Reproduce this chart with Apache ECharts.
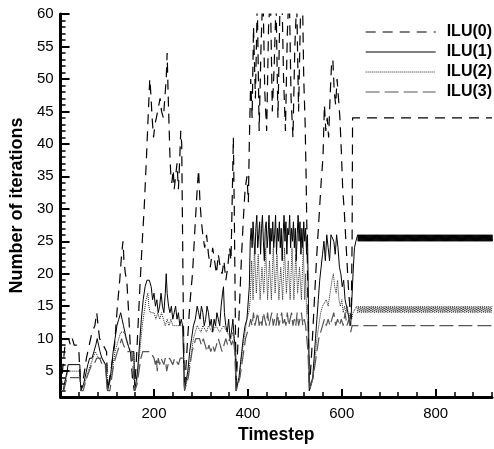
<!DOCTYPE html>
<html>
<head>
<meta charset="utf-8">
<title>ILU iterations</title>
<style>
body { margin: 0; background: #fff; }
#main { width: 494px; height: 449px; }
</style>
</head>
<body>
<div id="main"></div>
<script src="https://cdn.jsdelivr.net/npm/echarts@6/dist/echarts.min.js"></script>
<script>
// series names
var names = ['ILU(0)', 'ILU(1)', 'ILU(2)', 'ILU(3)'];

// [timestep, iterations]
var ilu0Pts = [
  [2,2],[5,5],[9,8],[12,10],[18,10],[22,9],[26,10],[30,9],[35,9],[40,8],[43,8],
  [44,2],[50,4],[56,7],[62,9],[68,11],[74,12],[78,14],[81,12],[84,10],[88,10],[92,9],[96,9],[99,8],
  [101,2],[108,5],[116,9],[122,15],[127,19],[131,23],[134,25],[136,22],[139,20],[142,19],[146,14],[150,8],[154,4],[158,2],
  [162,6],[166,12],[170,18],[175,25],[179,30],[184,38],[188,45],[191,50],[193,48],[196,44],[199,41],[202,43],[205,44],
  [209,44],[213,47],[216,45],[220,44],[223,47],[226,50],[228,54],[230,48],[232,43],[234,38],[236,35],[238,34],[241,36],
  [243,33],[246,35],[249,37],[252,33],[255,38],[257,42],[259,40],[261,25],[263,10],[265,2],
  [270,8],[276,15],[282,20],[288,28],[292,33],[295,36],[298,31],[301,28],[304,26],[308,24],[312,26],[316,23],[320,21],
  [325,24],[329,22],[333,20],[337,23],[341,21],[345,20],[349,22],[353,19],[357,21],[361,24],[364,22],[367,33],[369,41],
  [371,30],[373,15],[375,2],
  [378,8],[382,15],[386,22],[390,28],[394,33],[398,35],[401,31],[403,40],[406,50],[409,44],[412,58],[416,47],[420,62],
  [424,42],[428,55],[432,64],[436,48],[440,42],[444,58],[448,63],[452,45],[456,52],[460,62],[464,44],[468,60],[472,65],
  [476,50],[480,42],[484,57],[488,64],[492,47],[496,41],[500,55],[504,62],[508,45],[512,60],[516,64],[519,50],[522,43],
  [524,35],[526,25],[529,10],[531,2],
  [536,8],[541,15],[546,22],[551,28],[556,34],[560,38],[563,46],[566,42],[569,44],[572,41],[575,47],[578,52],[581,53],
  [584,48],[587,46],[590,50],[593,47],[596,44],[599,39],[602,33],[605,30],[608,26],[611,22],[614,18],[617,15],[620,13],
  [622,25],[623,44],[920,44]
];

var ilu1Pts = [
  [2,2],[7,2],[9,3],[12,4],[15,5],[17,6],[42,6],
  [44,2],[47,2],[50,3],[53,4],[56,5],[59,6],[63,7],[68,7],[72,8],[76,9],[79,10],[82,9],[85,8],[89,7],[93,7],[97,6],[100,6],
  [101,2],[104,2],[107,4],[110,6],[113,8],[117,10],[121,12],[125,13],[129,14],[132,13],[135,12],[138,11],[141,10],[145,9],
  [149,8],[153,8],[157,8],
  [159,2],[162,2],[165,5],[169,9],[173,13],[177,16],[181,18],[185,19],[190,19],[194,18],[197,16],[200,17],[203,15],[206,16],
  [209,14],[212,15],[215,17],[218,15],[221,14],[224,17],[226,20],[228,17],[231,15],[234,14],[237,15],[240,13],[243,14],
  [246,15],[249,13],[252,14],[255,12],[258,13],[261,12],[263,12],
  [265,2],[268,2],[272,5],[276,8],[280,10],[284,12],[288,13],[292,15],[295,14],[298,13],[301,15],[304,14],[307,12],[310,13],
  [313,15],[316,14],[319,12],[322,13],[325,11],[328,13],[331,12],[334,14],[337,13],[340,12],[343,15],[346,17],[348,18],
  [350,14],[353,12],[356,11],[359,13],[362,10],[365,11],[368,13],[371,10],[374,8],
  [375,2],[378,2],[381,4],[384,6],[387,8],[390,10],[394,12],[398,13],[401,13],[403,18],[405,25],[407,27],[409,24],[411,28],
  [413,25],[415,23],[417,27],[419,29],[421,24],[423,26],[425,28],[427,23],[429,27],[431,29],[433,25],[435,22],[437,27],
  [439,28],[441,24],[443,26],[445,29],[447,23],[449,27],[451,25],[453,28],[455,24],[457,26],[459,29],[461,23],[463,27],
  [465,25],[467,28],[469,24],[471,27],[473,22],[475,26],[477,29],[479,25],[481,28],[483,23],[485,27],[487,26],[489,29],
  [491,24],[493,27],[495,25],[497,28],[499,24],[501,27],[503,22],[505,26],[507,29],[509,25],[511,28],[513,23],[515,27],
  [517,24],[519,28],[521,25],[523,27],[525,23],[527,26],[529,15],
  [531,2],[535,2],[538,4],[541,7],[544,10],[547,13],[550,16],[553,19],[556,21],[559,23],[562,25],[565,22],[568,26],[571,24],
  [574,22],[577,26],[580,26],[583,25],[586,23],[589,26],[592,24],[595,21],[598,20],[601,18],[604,19],[607,16],[610,15],
  [613,14],[616,13],[619,12],[621,12],[624,20],[627,24],[630,25],[633,25]
];
// the 25/26 band, one value per timestep from 634
var ilu1Band = [
  26,25,26,25,26,25,26,25,26,25,26,25,26,25,26,25,26,25,26,25,26,25,26,25,
  26,25,26,25,26,25,26,25,26,25,26,25,26,25,26,25,26,25,26,25,26,25,26,25,
  26,25,26,25,26,25,26,25,26,25,26,25,26,25,26,25,26,25,26,25,26,25,26,25,
  26,25,26,25,26,25,26,25,26,25,26,25,26,25,26,25,26,25,26,25,26,25,26,25,
  26,25,26,25,26,25,26,25,26,25,26,25,26,25,26,25,26,25,26,25,26,25,26,25,
  26,25,26,25,26,25,26,25,26,25,26,25,26,25,26,25,26,25,26,25,26,25,26,25,
  26,25,26,25,26,25,26,25,26,25,26,25,26,25,26,25,26,25,26,25,26,25,26,25,
  26,25,26,25,26,25,26,25,26,25,26,25,26,25,26,25,26,25,26,25,26,25,26,25,
  26,25,26,25,26,25,26,25,26,25,26,25,26,25,26,25,26,25,26,25,26,25,26,25,
  26,25,26,25,26,25,26,25,26,25,26,25,26,25,26,25,26,25,26,25,26,25,26,25,
  26,25,26,25,26,25,26,25,26,25,26,25,26,25,26,25,26,25,26,25,26,25,26,25,
  26,25,26,25,26,25,26,25,26,25,26,25,26,25,26,25,26,25,26,25,26,25,26,25
];

var ilu2Pts = [
  [2,2],[7,2],[10,3],[13,4],[17,5],[42,5],
  [44,2],[48,2],[52,3],[56,4],[60,5],[65,6],[70,7],[75,8],[79,8],[82,7],[86,7],[90,7],[95,6],[100,6],
  [101,2],[105,2],[109,4],[113,6],[117,8],[121,9],[125,10],[129,11],[133,11],[137,11],[140,10],[144,9],[148,9],[152,8],[157,8],
  [159,2],[163,3],[167,6],[171,9],[175,12],[179,14],[183,16],[187,17],[189,15],[192,14],[196,14],[200,14],[204,13],[208,14],
  [212,13],[216,14],[220,13],[224,12],[228,13],[232,12],[236,13],[240,12],[244,12],[248,12],[252,12],[256,12],[260,12],[263,12],
  [265,2],[268,2],[272,4],[276,6],[280,8],[284,10],[288,11],[292,12],[296,12],[300,11],[304,12],[308,12],[312,11],[316,12],
  [320,12],[324,11],[328,11],[332,12],[336,12],[340,11],[344,11],[348,12],[352,12],[356,11],[360,11],[364,10],[368,11],[372,9],
  [375,2],[378,2],[382,4],[386,7],[390,9],[394,11],[398,13],[402,14],[405,16],[408,22],[411,16],[414,24],[418,17],[422,23],
  [426,16],[430,21],[434,17],[438,24],[442,16],[446,22],[450,16],[454,24],[458,17],[462,23],[466,16],[470,21],[474,16],
  [478,24],[482,17],[486,22],[490,16],[494,24],[498,16],[502,23],[506,17],[510,21],[514,16],[518,24],[521,16],[523,20],
  [525,14],[528,12],
  [531,2],[535,2],[539,4],[543,7],[547,10],[551,12],[555,14],[559,15],[563,15],[567,16],[571,15],[575,17],[579,19],[582,20],
  [585,18],[588,17],[591,19],[594,16],[597,15],[600,16],[603,14],[606,15],[609,14],[612,15],[615,13],[618,14],[621,13],
  [624,14],[628,14]
];
// the 14/15 band after timestep 632, every 2 timesteps
var ilu2Band = [
  15,14,15,14,15,14,15,14,15,14,15,14,15,14,15,14,15,14,15,14,15,14,15,14,
  15,14,15,14,15,14,15,14,15,14,15,14,15,14,15,14,15,14,15,14,15,14,15,14,
  15,14,15,14,15,14,15,14,15,14,15,14,15,14,15,14,15,14,15,14,15,14,15,14,
  15,14,15,14,15,14,15,14,15,14,15,14,15,14,15,14,15,14,15,14,15,14,15,14,
  15,14,15,14,15,14,15,14,15,14,15,14,15,14,15,14,15,14,15,14,15,14,15,14,
  15,14,15,14,15,14,15,14,15,14,15,14,15,14,15,14,15,14,15,14,15,14,15,14,15
];

var ilu3Pts = [
  [2,2],[8,2],[11,3],[15,4],[42,4],
  [44,2],[49,2],[53,3],[57,4],[62,5],[67,6],[72,6],[78,7],[84,7],[90,6],[96,6],[100,6],
  [101,2],[106,2],[110,4],[114,6],[118,7],[122,8],[127,9],[131,10],[135,9],[139,9],[143,8],[148,8],[153,8],[157,8],
  [159,2],[164,3],[168,5],[172,7],[176,8],[180,8],[186,8],[192,8],[196,8],[200,7],[203,6],[205,7],[207,5],[209,7],[212,6],
  [215,7],[218,7],[221,6],[224,7],[227,5],[230,6],[233,7],[236,7],[240,6],[244,7],[248,7],[252,6],[256,7],[260,7],[263,7],
  [265,2],[269,2],[273,4],[277,6],[281,8],[285,9],[289,10],[293,10],[297,10],[301,9],[305,10],[309,9],[313,8],[317,9],
  [321,8],[325,9],[329,8],[333,9],[337,10],[341,9],[345,8],[349,9],[353,10],[357,9],[361,10],[365,9],[369,10],[372,8],
  [375,2],[379,2],[383,4],[387,6],[391,8],[395,10],[399,11],[403,12],[406,13],[409,12],[412,14],[415,12],[418,13],[421,14],
  [424,12],[427,13],[430,12],[433,14],[436,13],[439,12],[442,14],[445,12],[448,13],[451,14],[454,12],[457,13],[460,12],
  [463,14],[466,12],[469,13],[472,14],[475,12],[478,13],[481,12],[484,14],[487,12],[490,13],[493,14],[496,12],[499,13],
  [502,12],[505,14],[508,12],[511,13],[514,14],[517,12],[520,13],[523,12],[526,12],[528,8],
  [531,2],[535,2],[539,4],[543,6],[547,8],[551,10],[555,11],[559,12],[563,13],[567,12],[571,13],[575,12],[579,13],[583,14],
  [587,12],[591,13],[595,12],[599,13],[603,12],[607,14],[611,12],[615,13],[619,11],[622,12],[626,12],[920,12]
];

// axis ticks
var yLabels = [5, 10, 15, 20, 25, 30, 35, 40, 45, 50, 55, 60];
var xLabels = [200, 400, 600, 800];

var yMinor = [];
for (var v = 2; v < 60; v++) if (v % 5 != 0) yMinor.push(v);
var xMinor = [];
for (var t = 40; t <= 920; t += 40) if (t % 200 != 0) xMinor.push(t);

var ilu1 = ilu1Pts.concat(ilu1Band.map(function (v, i) { return [634 + i, v]; }));
var ilu2 = ilu2Pts.concat(ilu2Band.map(function (v, i) { return [632 + 2 * i, v]; }));

var font = 'Liberation Sans, Arial, Helvetica, sans-serif';

// line looks per series
var colors = ['#000', '#000', '#222', '#555'];
var dashes = [[10, 7], 'solid', [1, 1], [14, 5]];
var widths = [1.2, 1, 1, 1.2];

var myChart = echarts.init(document.getElementById('main'));

var series = [ilu0Pts, ilu1, ilu2, ilu3Pts].map(function (d, i) {
  return {
    name: names[i],
    type: 'line',
    data: d,
    symbol: 'none',
    showSymbol: false,
    animation: false,
    sampling: null,
    lineStyle: { color: colors[i], width: widths[i], type: dashes[i] },
    itemStyle: { color: colors[i] }
  };
});

var legendData = names.map(function (n, i) {
  return { name: n, lineStyle: { color: colors[i], width: widths[i], type: dashes[i] } };
});

myChart.setOption({
  animation: false,
  grid: { left: 60, right: 2, top: 14, bottom: 38 },
  legend: {
    orient: 'vertical',
    right: 2,
    top: 24,
    padding: 0,
    itemWidth: 70,
    itemHeight: 14,
    itemGap: 4,
    data: legendData,
    itemStyle: { color: 'rgba(0,0,0,0)', borderWidth: 0, opacity: 0 },
    textStyle: { fontFamily: font, fontWeight: 'bold', fontSize: 16, color: '#000', padding: [0, 0, 0, 6] }
  },
  xAxis: [{
    type: 'value',
    min: 1,
    max: 920,
    name: 'Timestep',
    nameLocation: 'middle',
    nameGap: 17,
    nameTextStyle: { fontFamily: font, fontWeight: 'bold', fontSize: 17.5, color: '#000' },
    axisLine: { show: true, onZero: false, lineStyle: { color: '#000', width: 3 } },
    axisTick: { show: true, inside: true, length: 8, customValues: xLabels, lineStyle: { color: '#000', width: 2 } },
    axisLabel: { customValues: xLabels, margin: 9, fontFamily: font, fontSize: 15, color: '#000' },
    splitLine: { show: false }
  }, {
    type: 'value',
    min: 1,
    max: 920,
    position: 'bottom',
    axisLine: { show: false },
    axisTick: { show: true, inside: true, length: 5, customValues: xMinor, lineStyle: { color: '#000', width: 1.5 } },
    axisLabel: { show: false },
    splitLine: { show: false }
  }],
  yAxis: [{
    type: 'value',
    min: 1,
    max: 60,
    name: 'Number of iterations',
    nameLocation: 'middle',
    nameGap: 30,
    nameTextStyle: { fontFamily: font, fontWeight: 'bold', fontSize: 18, color: '#000' },
    axisLine: { show: true, onZero: false, lineStyle: { color: '#000', width: 3 } },
    axisTick: { show: true, inside: true, length: 9, customValues: yLabels, lineStyle: { color: '#000', width: 2 } },
    axisLabel: { customValues: yLabels, margin: 7, fontFamily: font, fontSize: 15, color: '#000' },
    splitLine: { show: false }
  }, {
    type: 'value',
    min: 1,
    max: 60,
    position: 'left',
    axisLine: { show: false },
    axisTick: { show: true, inside: true, length: 5, customValues: yMinor, lineStyle: { color: '#000', width: 1.5 } },
    axisLabel: { show: false },
    splitLine: { show: false }
  }],
  series: series
});
</script>
</body>
</html>
